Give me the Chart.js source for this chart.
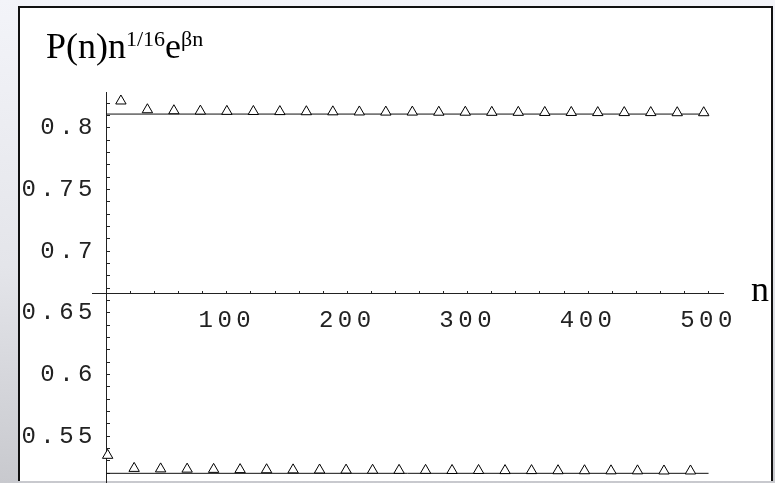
<!DOCTYPE html>
<html>
<head>
<meta charset="utf-8">
<script src="https://cdn.jsdelivr.net/npm/chart.js@4/dist/chart.umd.min.js"></script>
<style>
  html, body { margin: 0; padding: 0; overflow: hidden; }
  body {
    width: 775px; height: 483px; position: relative;
    background: linear-gradient(180deg, #f3f4f9 0%, #e4e5ea 55%, #c8c9ce 100%);
  }
  #frame {
    position: absolute; left: 18px; top: 6px; width: 755px; height: 475px;
    box-sizing: border-box; background: #fff;
    border: 2px solid #111; border-bottom: none;
  }
  #plot { position: absolute; left: 0; top: 0; }
</style>
</head>
<body>
<div id="frame"></div>
<canvas id="plot" width="775" height="483"></canvas>
<script>
// values
const upperN = [12, 34, 56, 78, 100, 122, 144, 166, 188, 210, 232, 254, 276, 298, 320, 342, 364, 386, 408, 430, 452, 474, 496];
const upperValues = [0.8219, 0.8148, 0.8140, 0.8137, 0.8135, 0.8134, 0.8133, 0.8132, 0.8131, 0.8130, 0.8129, 0.8129,
  0.8128, 0.8128, 0.8127, 0.8127, 0.8126, 0.8126, 0.8125, 0.8125, 0.8125, 0.8124, 0.8124];
const lowerN = [1, 23, 45, 67, 89, 111, 133, 155, 177, 199, 221, 243, 265, 287, 309, 331, 353, 375, 397, 419, 441, 463, 485];
const lowerValues = [0.5346, 0.5240, 0.5236, 0.5234, 0.5232, 0.5230, 0.5229, 0.5228, 0.5227, 0.5226, 0.5225, 0.5224,
  0.5224, 0.5223, 0.5223, 0.5222, 0.5222, 0.5221, 0.5221, 0.5220, 0.5220, 0.5219, 0.5219];
const fitN = [0, 500];
const upperFit = 0.8113;
const lowerFit = 0.52;
const xTickLabels = [100, 200, 300, 400, 500];
const yTickLabels = [0.55, 0.6, 0.65, 0.7, 0.75, 0.8];

const Y_MIN = 0.51215, Y_MAX = 0.82919;

const toPoints = (xs, ys) => xs.map((x, i) => ({x: x, y: ys[i]}));
const near = (a, b) => Math.abs(a - b) < 1e-6;
const noPadding = (s) => { s.paddingTop = 0; s.paddingBottom = 0; s.paddingLeft = 0; s.paddingRight = 0; };
const hundredths = (s) => { s.ticks = s.ticks.filter(t => near(t.value * 100, Math.round(t.value * 100))); };
const tickFont = { family: 'Liberation Mono', size: 24 };

const pointStyle = {
  showLine: false,
  pointStyle: 'triangle',
  pointRadius: 6,
  pointBorderWidth: 1,
  pointBorderColor: '#000',
  pointBackgroundColor: '#fff',
  order: 0
};
const lineStyle = {
  showLine: true,
  pointRadius: 0,
  borderColor: '#111',
  borderWidth: 1,
  order: 1
};

// title + "n" label, Mathematica style with superscripts
const labelsPlugin = {
  id: 'labels',
  beforeDraw(chart) {
    chart.ctx.letterSpacing = '4.5px';
  },
  afterDraw(chart) {
    const ctx = chart.ctx;
    ctx.save();
    ctx.letterSpacing = '0px';
    ctx.fillStyle = '#000';
    ctx.textBaseline = 'alphabetic';
    let x = 46;
    const parts = [['P(n)n', 36, 58], ['1/16', 22, 46], ['e', 36, 58], ['\u03B2n', 22, 46]];
    parts.forEach(([t, size, base]) => {
      ctx.font = size + 'px "Liberation Serif"';
      ctx.fillText(t, x, base);
      x += ctx.measureText(t).width;
    });
    ctx.font = '36px "Liberation Serif"';
    ctx.fillText('n', 751, 301);
    ctx.restore();
  }
};

const ctx = document.getElementById('plot').getContext('2d');
const chart = new Chart(ctx, {
  type: 'scatter',
  data: {
    datasets: [
      Object.assign({label: 'upper', data: toPoints(upperN, upperValues)}, pointStyle),
      Object.assign({label: 'lower', data: toPoints(lowerN, lowerValues)}, pointStyle),
      Object.assign({label: 'upper fit', data: toPoints(fitN, fitN.map(() => upperFit))}, lineStyle),
      Object.assign({label: 'lower fit', data: toPoints(fitN, fitN.map(() => lowerFit))}, lineStyle)
    ]
  },
  options: {
    responsive: false,
    animation: false,
    events: [],
    layout: { autoPadding: false, padding: { left: 0, right: 52, top: 92, bottom: 0 } },
    plugins: { legend: { display: false }, tooltip: { enabled: false } },
    scales: {
      x: {
        type: 'linear',
        min: -12,
        max: 512,
        position: { y: 0.6662 },
        afterFit: (s) => { s.height = 0; noPadding(s); },
        afterBuildTicks: (s) => { s.ticks = s.ticks.filter(t => t.value > 0 && t.value % 20 === 0); },
        grid: { drawOnChartArea: false, tickLength: -3, tickColor: '#222' },
        border: { color: '#222', width: 1 },
        ticks: {
          stepSize: 20,
          includeBounds: false,
          autoSkip: false,
          maxRotation: 0,
          minRotation: 0,
          padding: 16,
          color: '#222',
          font: tickFont,
          callback: (v) => xTickLabels.includes(v) ? String(v) : ''
        }
      },
      // axis line and tick marks at n = 0
      y: {
        type: 'linear',
        min: Y_MIN,
        max: Y_MAX,
        position: { x: 0 },
        afterFit: (s) => { s.width = 0; noPadding(s); },
        afterBuildTicks: hundredths,
        grid: { drawOnChartArea: false, tickLength: -4, tickColor: '#222' },
        border: { color: '#222', width: 1 },
        ticks: { stepSize: 0.01, includeBounds: false, autoSkip: false, display: false }
      },
      // tick labels, drawn at the left edge of the plot
      yLabels: {
        type: 'linear',
        min: Y_MIN,
        max: Y_MAX,
        position: 'left',
        afterFit: (s) => { s.width = 92; noPadding(s); },
        afterBuildTicks: hundredths,
        grid: { display: false },
        border: { display: false },
        ticks: {
          stepSize: 0.01,
          includeBounds: false,
          autoSkip: false,
          padding: -13,
          color: '#222',
          font: tickFont,
          callback: (v) => yTickLabels.some(t => near(t, v)) ? String(Math.round(v * 100) / 100) : ''
        }
      }
    }
  },
  plugins: [labelsPlugin]
});
</script>
</body>
</html>
